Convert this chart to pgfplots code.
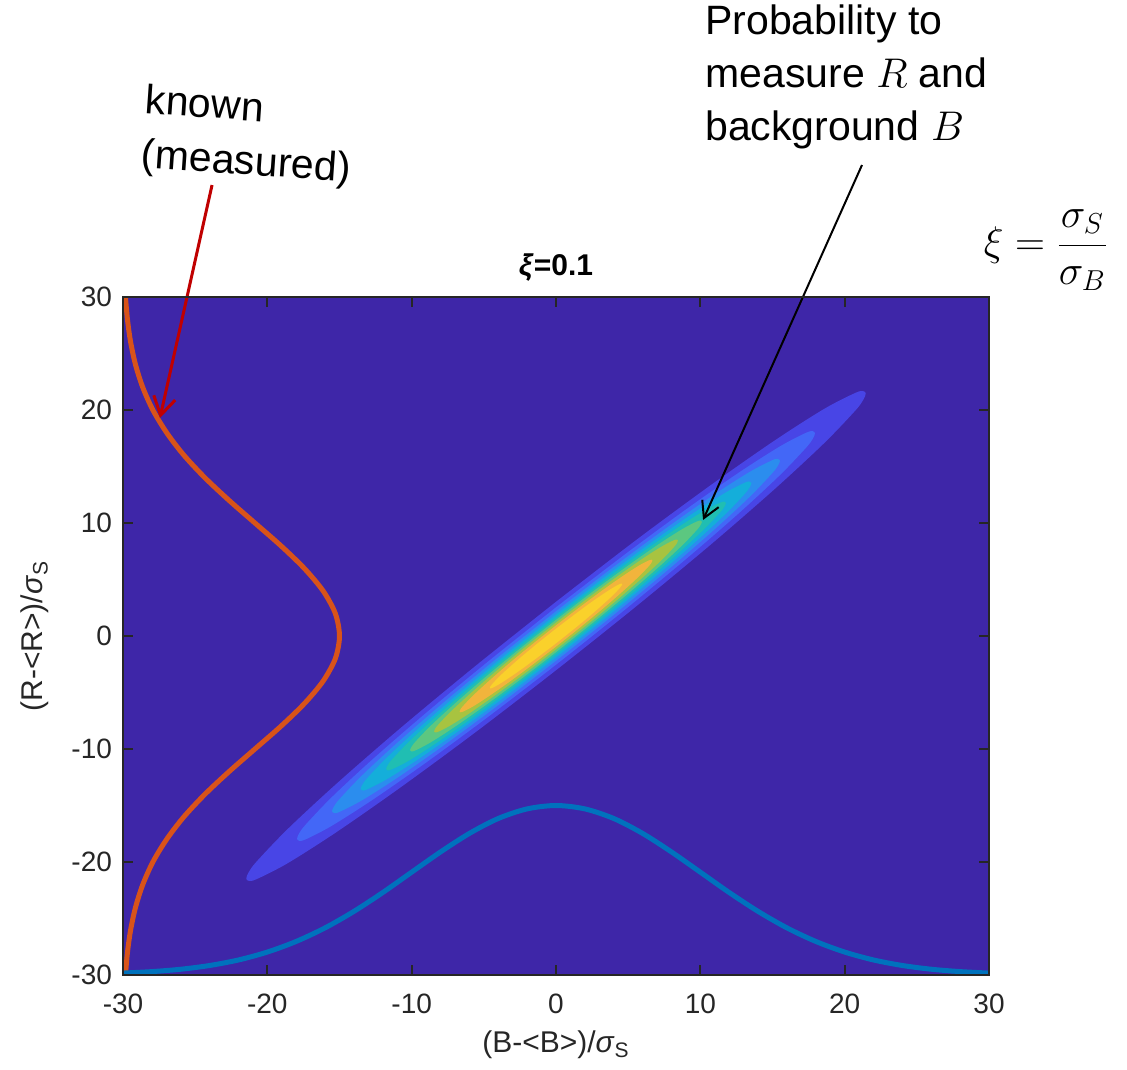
\documentclass[border=0pt]{standalone}
\usepackage{pgfplots}
\pgfplotsset{compat=1.18}
\usepackage{fontspec}
\setmainfont{Liberation Sans}
\usetikzlibrary{arrows.meta}

\definecolor{pbg}{RGB}{62,38,168}
\definecolor{c1}{RGB}{72,69,230}
\definecolor{c2}{RGB}{67,103,247}
\definecolor{c3}{RGB}{43,141,238}
\definecolor{c4}{RGB}{20,174,218}
\definecolor{c5}{RGB}{32,190,178}
\definecolor{c6}{RGB}{92,199,128}
\definecolor{c7}{RGB}{168,195,64}
\definecolor{c8}{RGB}{242,180,60}
\definecolor{c9}{RGB}{250,209,43}
\definecolor{morange}{rgb}{0.85,0.325,0.098}
\definecolor{mblue}{rgb}{0,0.447,0.741}
\definecolor{axgray}{rgb}{0.15,0.15,0.15}
\definecolor{arrred}{RGB}{192,0,0}

\begin{document}
\begin{tikzpicture}
\begin{axis}[
  at={(0,0)}, anchor=south west,
  scale only axis, width=433pt, height=339pt,
  xmin=-30, xmax=30, ymin=-30, ymax=30,
  xtick={-30,-20,-10,0,10,20,30}, ytick={-30,-20,-10,0,10,20,30},
  xticklabels={-30,-20,-10,0,10,20,30},
  yticklabels={-30,-20,-10,0,10,20,30},
  tick align=inside, major tick length=5pt,
  tick style={line width=1pt, color=axgray},
  axis line style={line width=1pt, color=axgray},
  tick label style={font=\fontsize{14}{16}\selectfont, text=axgray},
  xticklabel style={yshift=-6pt},
  yticklabel style={xshift=-2pt},
  xlabel={(B-<B>)/\textit{σ}\textsubscript{S}},
  ylabel={(R-<R>)/\textit{σ}\textsubscript{S}},
  label style={font=\fontsize{15}{17}\selectfont, text=axgray},
  xlabel style={at={(axis description cs:0.5,-0.1032)}, anchor=center},
  ylabel style={at={(axis description cs:-0.1016,0.5)}, anchor=center},
  title={\textbf{\textit{ξ}=0.1}},
  title style={font=\fontsize{15}{17}\selectfont, at={(axis description cs:0.5,1)}, anchor=base, yshift=5pt},
  axis background/.style={fill=pbg},
  clip=false,
  axis on top,
]
% filled contours, levels 0.1 ... 0.9 of the peak
\addplot[draw=none, fill=c1, smooth] coordinates {
(0,3.03) (-5.55,-2.62) (-10.73,-8.10) (-15.17,-13.03) (-18.58,-17.07) (-20.73,-19.94) (-21.28,-20.88) (-21.46,-21.46) (-21.28,-21.67) (-20.73,-21.51) (-18.58,-20.10) (-15.17,-17.32) (-10.73,-13.36) (-5.55,-8.49) (0,-3.03) (5.55,2.62) (10.73,8.10) (15.17,13.03) (18.58,17.07) (20.73,19.94) (21.28,20.88) (21.46,21.46) (21.28,21.67) (20.73,21.51) (18.58,20.10) (15.17,17.32) (10.73,13.36) (5.55,8.49) (0,3.03)};
\addplot[draw=none, fill=c2, smooth] coordinates {
(0,2.54) (-4.64,-2.19) (-8.97,-6.77) (-12.69,-10.89) (-15.54,-14.27) (-17.33,-16.67) (-17.79,-17.45) (-17.94,-17.94) (-17.79,-18.12) (-17.33,-17.99) (-15.54,-16.80) (-12.69,-14.48) (-8.97,-11.17) (-4.64,-7.09) (0,-2.54) (4.64,2.19) (8.97,6.77) (12.69,10.89) (15.54,14.27) (17.33,16.67) (17.79,17.45) (17.94,17.94) (17.79,18.12) (17.33,17.99) (15.54,16.80) (12.69,14.48) (8.97,11.17) (4.64,7.09) (0,2.54)};
\addplot[draw=none, fill=c3, smooth] coordinates {
(0,2.19) (-4.02,-1.90) (-7.76,-5.86) (-10.97,-9.42) (-13.44,-12.34) (-14.99,-14.42) (-15.39,-15.10) (-15.52,-15.52) (-15.39,-15.67) (-14.99,-15.56) (-13.44,-14.54) (-10.97,-12.53) (-7.76,-9.66) (-4.02,-6.14) (0,-2.19) (4.02,1.90) (7.76,5.86) (10.97,9.42) (13.44,12.34) (14.99,14.42) (15.39,15.10) (15.52,15.52) (15.39,15.67) (14.99,15.56) (13.44,14.54) (10.97,12.53) (7.76,9.66) (4.02,6.14) (0,2.19)};
\addplot[draw=none, fill=c4, smooth] coordinates {
(0,1.91) (-3.50,-1.65) (-6.77,-5.11) (-9.57,-8.22) (-11.73,-10.77) (-13.08,-12.58) (-13.42,-13.17) (-13.54,-13.54) (-13.42,-13.67) (-13.08,-13.57) (-11.73,-12.68) (-9.57,-10.93) (-6.77,-8.43) (-3.50,-5.35) (0,-1.91) (3.50,1.65) (6.77,5.11) (9.57,8.22) (11.73,10.77) (13.08,12.58) (13.42,13.17) (13.54,13.54) (13.42,13.67) (13.08,13.57) (11.73,12.68) (9.57,10.93) (6.77,8.43) (3.50,5.35) (0,1.91)};
\addplot[draw=none, fill=c5, smooth] coordinates {
(0,1.66) (-3.05,-1.44) (-5.89,-4.44) (-8.32,-7.15) (-10.19,-9.36) (-11.37,-10.94) (-11.67,-11.45) (-11.77,-11.77) (-11.67,-11.89) (-11.37,-11.80) (-10.19,-11.03) (-8.32,-9.50) (-5.89,-7.33) (-3.05,-4.65) (0,-1.66) (3.05,1.44) (5.89,4.44) (8.32,7.15) (10.19,9.36) (11.37,10.94) (11.67,11.45) (11.77,11.77) (11.67,11.89) (11.37,11.80) (10.19,11.03) (8.32,9.50) (5.89,7.33) (3.05,4.65) (0,1.66)};
\addplot[draw=none, fill=c6, smooth] coordinates {
(0,1.43) (-2.62,-1.24) (-5.06,-3.82) (-7.15,-6.14) (-8.76,-8.04) (-9.77,-9.40) (-10.02,-9.84) (-10.11,-10.11) (-10.02,-10.21) (-9.77,-10.14) (-8.76,-9.47) (-7.15,-8.16) (-5.06,-6.29) (-2.62,-4.00) (0,-1.43) (2.62,1.24) (5.06,3.82) (7.15,6.14) (8.76,8.04) (9.77,9.40) (10.02,9.84) (10.11,10.11) (10.02,10.21) (9.77,10.14) (8.76,9.47) (7.15,8.16) (5.06,6.29) (2.62,4.00) (0,1.43)};
\addplot[draw=none, fill=c7, smooth] coordinates {
(0,1.19) (-2.19,-1.03) (-4.23,-3.19) (-5.97,-5.13) (-7.32,-6.72) (-8.16,-7.85) (-8.38,-8.22) (-8.45,-8.45) (-8.38,-8.53) (-8.16,-8.47) (-7.32,-7.92) (-5.97,-6.82) (-4.23,-5.26) (-2.19,-3.34) (0,-1.19) (2.19,1.03) (4.23,3.19) (5.97,5.13) (7.32,6.72) (8.16,7.85) (8.38,8.22) (8.45,8.45) (8.38,8.53) (8.16,8.47) (7.32,7.92) (5.97,6.82) (4.23,5.26) (2.19,3.34) (0,1.19)};
\addplot[draw=none, fill=c8, smooth] coordinates {
(0,0.94) (-1.73,-0.82) (-3.34,-2.52) (-4.72,-4.06) (-5.78,-5.31) (-6.45,-6.21) (-6.62,-6.50) (-6.68,-6.68) (-6.62,-6.75) (-6.45,-6.70) (-5.78,-6.26) (-4.72,-5.39) (-3.34,-4.16) (-1.73,-2.64) (0,-0.94) (1.73,0.82) (3.34,2.52) (4.72,4.06) (5.78,5.31) (6.45,6.21) (6.62,6.50) (6.68,6.68) (6.62,6.75) (6.45,6.70) (5.78,6.26) (4.72,5.39) (3.34,4.16) (1.73,2.64) (0,0.94)};
\addplot[draw=none, fill=c9, smooth] coordinates {
(0,0.65) (-1.19,-0.56) (-2.30,-1.73) (-3.25,-2.79) (-3.98,-3.65) (-4.43,-4.27) (-4.55,-4.47) (-4.59,-4.59) (-4.55,-4.64) (-4.43,-4.60) (-3.98,-4.30) (-3.25,-3.70) (-2.30,-2.86) (-1.19,-1.81) (0,-0.65) (1.19,0.56) (2.30,1.73) (3.25,2.79) (3.98,3.65) (4.43,4.27) (4.55,4.47) (4.59,4.59) (4.55,4.64) (4.43,4.60) (3.98,4.30) (3.25,3.70) (2.30,2.86) (1.19,1.81) (0,0.65)};
% marginal of R (known, measured)
\addplot[morange, line width=2.5pt, smooth] coordinates {
(-29.83,-30) (-29.69,-28) (-29.47,-26) (-29.13,-24) (-28.63,-22) (-27.93,-20) (-26.98,-18) (-25.78,-16) (-24.32,-14) (-22.65,-12) (-20.86,-10) (-19.07,-8) (-17.45,-6) (-16.14,-4) (-15.29,-2) (-15.00,0) (-15.29,2) (-16.14,4) (-17.45,6) (-19.07,8) (-20.86,10) (-22.65,12) (-24.32,14) (-25.78,16) (-26.98,18) (-27.93,20) (-28.63,22) (-29.13,24) (-29.47,26) (-29.69,28) (-29.83,30)};
% marginal of B
\addplot[mblue, line width=2.5pt, smooth] coordinates {
(-30,-29.83) (-28,-29.70) (-26,-29.49) (-24,-29.16) (-22,-28.67) (-20,-27.97) (-18,-27.03) (-16,-25.83) (-14,-24.37) (-12,-22.70) (-10,-20.90) (-8,-19.11) (-6,-17.47) (-4,-16.15) (-2,-15.30) (0,-15.00) (2,-15.30) (4,-16.15) (6,-17.47) (8,-19.11) (10,-20.90) (12,-22.70) (14,-24.37) (16,-25.83) (18,-27.03) (20,-27.97) (22,-28.67) (24,-29.16) (26,-29.49) (28,-29.70) (30,-29.83)};

% annotations
\node[anchor=west, align=left, inner sep=0, font=\fontsize{20.5}{26.5}\selectfont]
  at (axis cs:10.32,49.47) {Probability to\\measure $R$ and\\background $B$};
\node[rotate=-4, align=left, inner sep=0, font=\fontsize{20.5}{27}\selectfont]
  at (axis cs:-21.34,44.16) {known\\(measured)};
\node[inner sep=0, font=\fontsize{20}{24}\selectfont]
  at (axis cs:33.95,34.16) {$\displaystyle \xi = \frac{\sigma_S}{\sigma_B}$};
\draw[arrred, line width=1.5pt, -{Straight Barb[length=9pt,width=11pt]}]
  (axis cs:-23.83,39.91) -- (axis cs:-27.44,19.29);
\draw[black, line width=1pt, -{Straight Barb[length=8pt,width=9pt]}]
  (axis cs:21.20,41.68) -- (axis cs:10.19,10.27);
\end{axis}
\pgfresetboundingbox
\path (-61.5pt,-47pt) rectangle (502pt,487.5pt);
\end{tikzpicture}
\end{document}
